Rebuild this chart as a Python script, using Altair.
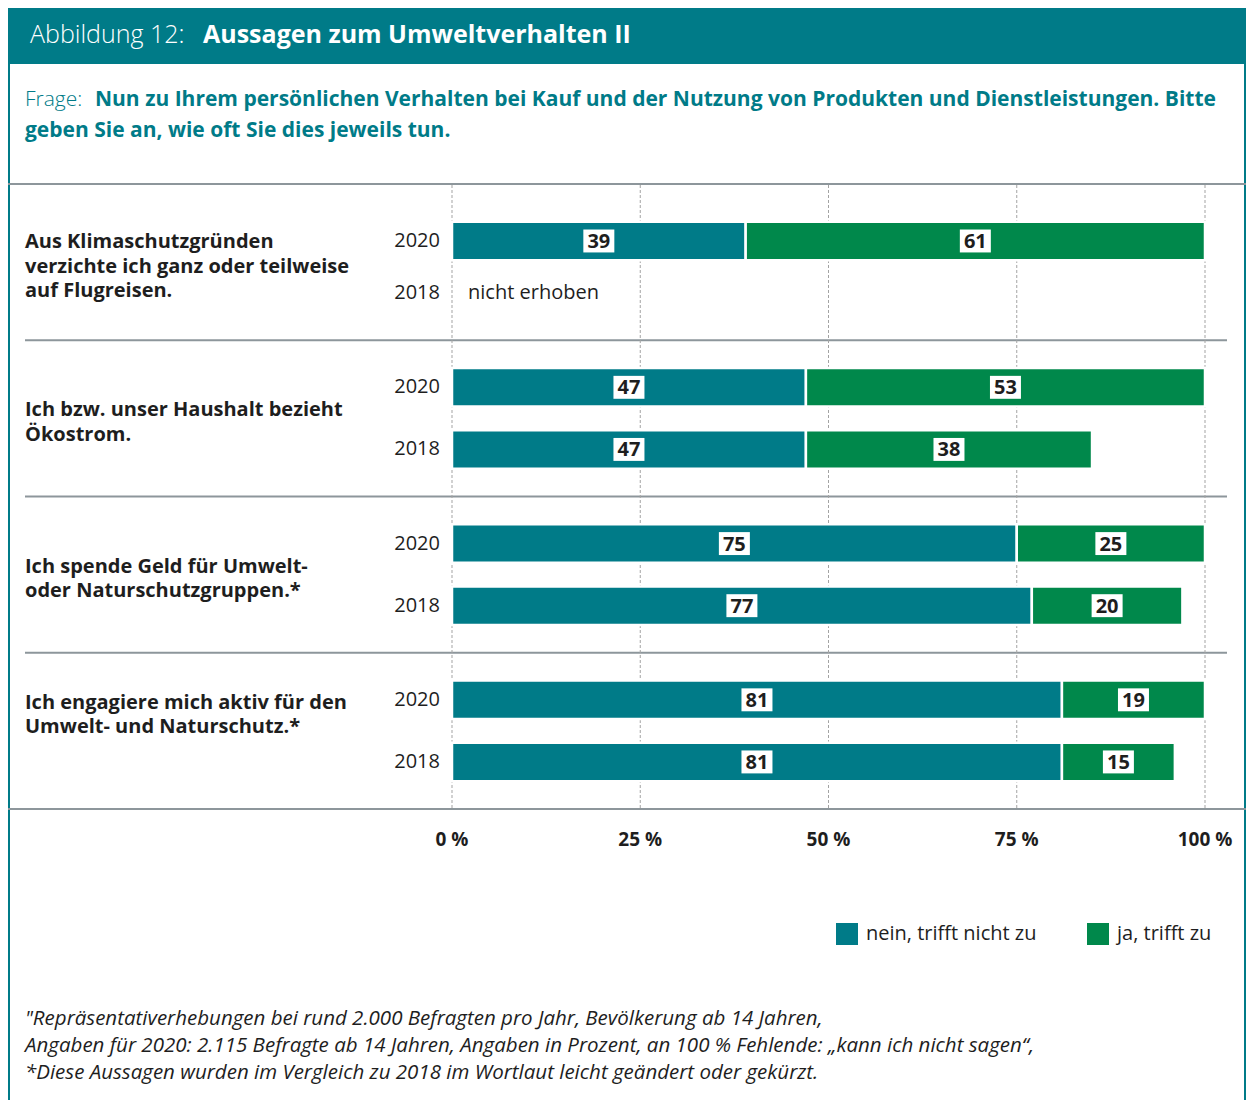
import altair as alt
import pandas as pd

FONT = "Open Sans"
TEAL = "#007b88"
GREEN = "#00884b"
GRAY = "#8d969b"
DARK = "#1e1e1e"

# ---------------- data ----------------
groups = ["g1", "g2", "g3", "g4"]
statements = [
    ["Aus Klimaschutzgründen", "verzichte ich ganz oder teilweise", "auf Flugreisen."],
    ["Ich bzw. unser Haushalt bezieht", "Ökostrom."],
    ["Ich spende Geld für Umwelt-", "oder Naturschutzgruppen.*"],
    ["Ich engagiere mich aktiv für den", "Umwelt- und Naturschutz.*"],
]
years = ["2020", "2018"]
nein_2020 = [39, 47, 75, 81]
ja_2020 = [61, 53, 25, 19]
nein_2018 = [None, 47, 77, 81]
ja_2018 = [None, 38, 20, 15]
notes_2018 = ["nicht erhoben", None, None, None]
categories = ["nein, trifft nicht zu", "ja, trifft zu"]
ticks = [0, 25, 50, 75, 100]
tick_labels = ["0 %", "25 %", "50 %", "75 %", "100 %"]

title_regular = "Abbildung 12:"
title_bold = "Aussagen zum Umweltverhalten II"
question_regular = "Frage:"
question_bold_1 = "Nun zu Ihrem persönlichen Verhalten bei Kauf und der Nutzung von Produkten und Dienstleistungen. Bitte"
question_bold_2 = "geben Sie an, wie oft Sie dies jeweils tun."
footnote = [
    "\"Repräsentativerhebungen bei rund 2.000 Befragten pro Jahr, Bevölkerung ab 14 Jahren,",
    "Angaben für 2020: 2.115 Befragte ab 14 Jahren, Angaben in Prozent, an 100 % Fehlende: „kann ich nicht sagen“,",
    "*Diese Aussagen wurden im Vergleich zu 2018 im Wortlaut leicht geändert oder gekürzt.",
]

# ---------------- tables ----------------
bar_rows = []
for i, g in enumerate(groups):
    for yr, nein, ja in (("2020", nein_2020[i], ja_2020[i]), ("2018", nein_2018[i], ja_2018[i])):
        if nein is None:
            continue
        start = 0
        for cat, v in zip(categories, (nein, ja)):
            bar_rows.append(dict(group=g, year=yr, cat=cat, value=v,
                                 start=start, end=start + v, mid=start + v / 2,
                                 label=str(v)))
            start += v
bars_df = pd.DataFrame(bar_rows)

year_df = pd.DataFrame([dict(group=g, year=y) for g in groups for y in years])
note_df = pd.DataFrame([dict(group=g, year="2018", note=n)
                        for g, n in zip(groups, notes_2018) if n])
stmt_df = pd.DataFrame(dict(group=groups, text=statements))
tick_df = pd.DataFrame(dict(tick=ticks, label=tick_labels))
one = pd.DataFrame(dict(k=[0]))

W, H = 1238, 1092
X = alt.Scale(domain=[0, 100], range=[444, 1197])
Y = alt.Scale(domain=groups, range=[176, 801], paddingInner=0, paddingOuter=0)
YO = alt.Scale(domain=years, paddingInner=0.38, paddingOuter=0.448)
YO1 = alt.Scale(domain=years, paddingInner=0.26, paddingOuter=0.632, align=0.574)

base_y = alt.Y("group:N", scale=Y, axis=None)

cat_color = alt.Color(
    "cat:N", scale=alt.Scale(domain=categories, range=[TEAL, GREEN]),
    legend=alt.Legend(orient="none", legendX=828, legendY=915, direction="horizontal",
                      title=None, symbolType="square", symbolSize=484,
                      symbolStrokeWidth=0, symbolOpacity=1, labelFont=FONT,
                      labelFontSize=20, labelColor=DARK, labelOffset=8,
                      columnPadding=50, padding=0, labelLimit=400))


def row_layers(bdf, ydf, ndf, yo_scale):
    yo = alt.YOffset("year:N", scale=yo_scale)
    out = [
        alt.Chart(bdf).mark_bar(stroke="white", strokeWidth=2.5, opacity=1).encode(
            x=alt.X("start:Q", scale=X, axis=None), x2="end:Q",
            y=base_y, yOffset=yo, color=cat_color),
        alt.Chart(bdf).mark_point(shape="M-1,-0.74L1,-0.74L1,0.74L-1,0.74Z", size=961,
                                  filled=True, color="white", opacity=1, strokeWidth=0).encode(
            x=alt.X("mid:Q", scale=X, axis=None), y=base_y, yOffset=yo),
        alt.Chart(bdf).mark_text(font=FONT, fontSize=20, fontWeight="bold", color=DARK,
                                 baseline="middle", dy=1).encode(
            x=alt.X("mid:Q", scale=X, axis=None), y=base_y, yOffset=yo, text="label:N"),
        alt.Chart(ydf).mark_text(font=FONT, fontSize=20, color=DARK, align="right",
                                 baseline="middle").encode(
            x=alt.value(432), y=base_y, yOffset=yo, text="year:N"),
    ]
    if len(ndf):
        out.append(alt.Chart(ndf).mark_text(font=FONT, fontSize=20, color=DARK, align="left",
                                            baseline="middle").encode(
            x=alt.value(460), y=base_y, yOffset=yo, text="note:N"))
    return alt.layer(*out)


layers = []

# header band
layers.append(alt.Chart(one).mark_rect(color=TEAL).encode(
    x=alt.value(0), x2=alt.value(W), y=alt.value(0), y2=alt.value(56)))
# frame
for xv in (1, W - 1):
    layers.append(alt.Chart(one).mark_rule(color=TEAL, strokeWidth=2).encode(
        x=alt.value(xv), y=alt.value(56), y2=alt.value(H)))

# title
layers.append(alt.Chart(one).mark_text(font=FONT, fontSize=25, fontWeight=300, color="white",
                                       align="left", baseline="middle", text=title_regular).encode(
    x=alt.value(22), y=alt.value(27)))
layers.append(alt.Chart(one).mark_text(font=FONT, fontSize=25, color="white", align="left",
                                       baseline="middle", fontWeight="bold", text=title_bold).encode(
    x=alt.value(195), y=alt.value(27)))
# question
layers.append(alt.Chart(one).mark_text(font=FONT, fontSize=21, fontWeight=300, color=TEAL,
                                       align="left", baseline="middle", text=question_regular).encode(
    x=alt.value(17), y=alt.value(92)))
layers.append(alt.Chart(one).mark_text(font=FONT, fontSize=21, color=TEAL, align="left",
                                       baseline="middle", fontWeight="bold", text=question_bold_1).encode(
    x=alt.value(87), y=alt.value(92)))
layers.append(alt.Chart(one).mark_text(font=FONT, fontSize=21, color=TEAL, align="left",
                                       baseline="middle", fontWeight="bold", text=question_bold_2).encode(
    x=alt.value(17), y=alt.value(123)))

# horizontal lines
for yv in (176, 801):
    layers.append(alt.Chart(one).mark_rule(color=GRAY, strokeWidth=2).encode(
        x=alt.value(0), x2=alt.value(W), y=alt.value(yv)))
layers.append(alt.Chart(pd.DataFrame(dict(group=groups[1:]))).mark_rule(color=GRAY, strokeWidth=2).encode(
    x=alt.value(17), x2=alt.value(1219), y=alt.Y("group:N", scale=Y, axis=None, bandPosition=0)))

# grid lines
layers.append(alt.Chart(tick_df).mark_rule(color="#a3a3a3", strokeWidth=1, strokeDash=[3, 2]).encode(
    x=alt.X("tick:Q", scale=X, axis=None), y=alt.value(177), y2=alt.value(800)))
# tick labels
layers.append(alt.Chart(tick_df).mark_text(font=FONT, fontSize=19, fontWeight="bold", color=DARK,
                                           baseline="middle").encode(
    x=alt.X("tick:Q", scale=X, axis=None), y=alt.value(832), text="label:N"))

# statements (first line sits at y; shift per block)
stmt_dy = {"g1": -20, "g2": -8, "g3": -8, "g4": -28}
for g in groups:
    layers.append(alt.Chart(stmt_df).transform_filter(alt.datum.group == g).mark_text(
        font=FONT, fontSize=20, fontWeight="bold", color=DARK, align="left", baseline="middle",
        lineHeight=24.5, dy=stmt_dy[g]).encode(x=alt.value(17), y=base_y, text="text"))

# footnote
layers.append(alt.Chart(pd.DataFrame(dict(t=[footnote]))).mark_text(
    font=FONT, fontSize=20.5, fontStyle="italic", color=DARK, align="left", baseline="middle",
    lineHeight=27).encode(x=alt.value(17), y=alt.value(1011), text="t"))

static = alt.layer(*layers)
rows_main = row_layers(bars_df[bars_df.group != "g1"], year_df[year_df.group != "g1"],
                       note_df[note_df.group != "g1"], YO)
rows_g1 = row_layers(bars_df[bars_df.group == "g1"], year_df[year_df.group == "g1"],
                     note_df[note_df.group == "g1"], YO1)

chart = alt.layer(static, rows_main, rows_g1).resolve_scale(yOffset="independent").properties(
    width=W, height=H, padding=0, autosize=alt.AutoSizeParams(type="none"), background="white"
).configure_view(stroke=None)

chart.save("out.html", embed_options={"renderer": "svg", "actions": False})
